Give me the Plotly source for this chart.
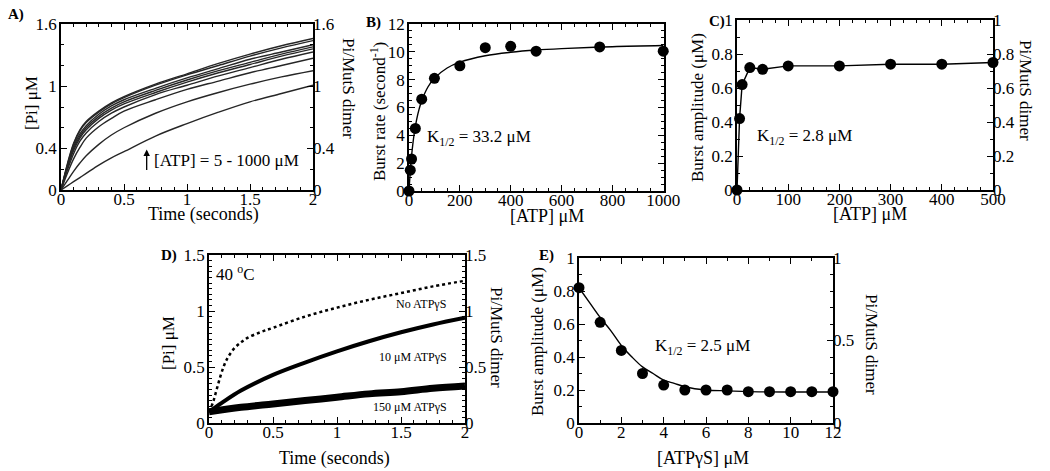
import plotly.graph_objects as go

W, H = 1050, 471
FONT = "Liberation Serif"

# ---------------- data ----------------
# Panel A: Pi release time courses, [ATP] = 5 - 1000 uM
a_time = [0, 0.05, 0.1, 0.15, 0.2, 0.3, 0.4, 0.5, 0.75, 1.0, 1.25, 1.5, 1.75, 2.0]
a_curves = [
    [0, 0.25, 0.45, 0.58, 0.66, 0.76, 0.84, 0.90, 1.02, 1.12, 1.22, 1.31, 1.39, 1.46],
    [0, 0.24, 0.44, 0.57, 0.65, 0.75, 0.83, 0.89, 1.01, 1.11, 1.20, 1.29, 1.37, 1.44],
    [0, 0.23, 0.42, 0.54, 0.62, 0.73, 0.81, 0.87, 0.98, 1.08, 1.17, 1.26, 1.33, 1.40],
    [0, 0.22, 0.40, 0.52, 0.60, 0.71, 0.79, 0.85, 0.96, 1.06, 1.15, 1.23, 1.31, 1.38],
    [0, 0.21, 0.38, 0.50, 0.58, 0.69, 0.77, 0.83, 0.94, 1.04, 1.13, 1.21, 1.29, 1.36],
    [0, 0.19, 0.35, 0.47, 0.55, 0.66, 0.74, 0.80, 0.92, 1.01, 1.10, 1.18, 1.26, 1.33],
    [0, 0.16, 0.30, 0.41, 0.50, 0.61, 0.69, 0.76, 0.87, 0.97, 1.05, 1.13, 1.20, 1.27],
    [0, 0.09, 0.18, 0.26, 0.33, 0.44, 0.53, 0.60, 0.74, 0.85, 0.94, 1.02, 1.09, 1.15],
    [0, 0.04, 0.08, 0.12, 0.16, 0.24, 0.31, 0.37, 0.52, 0.64, 0.75, 0.85, 0.93, 1.01],
]

# Panel B: burst rate vs [ATP]
b_atp = [0, 5, 10, 25, 50, 100, 200, 300, 400, 500, 750, 1000]
b_rate = [0, 1.5, 2.3, 4.5, 6.6, 8.1, 9.0, 10.3, 10.4, 10.05, 10.35, 10.05]
b_fit_x = [0, 5, 10, 20, 30, 40, 50, 75, 100, 150, 200, 300, 400, 500, 600, 800, 1000]
b_fit_y = [0, 1.41, 2.50, 4.06, 5.13, 5.90, 6.49, 7.49, 8.11, 8.84, 9.26, 9.72, 9.97, 10.13, 10.23, 10.37, 10.45]

# Panel C: burst amplitude vs [ATP]
c_atp = [0, 5, 10, 25, 50, 100, 200, 300, 400, 500]
c_amp = [0, 0.42, 0.62, 0.72, 0.71, 0.73, 0.73, 0.74, 0.74, 0.75]

# Panel D: time courses at 40 C with ATPgS
d_t0 = [0, 0.03, 0.06, 0.09, 0.12, 0.15, 0.2, 0.25, 0.3, 0.4, 0.5, 0.75, 1.0, 1.25, 1.5, 1.75, 2.0]
d_none = [0.10, 0.18, 0.30, 0.42, 0.52, 0.59, 0.67, 0.72, 0.76, 0.81, 0.85, 0.95, 1.03, 1.10, 1.16, 1.22, 1.27]
d_t10 = [0, 0.1, 0.25, 0.5, 0.75, 1.0, 1.25, 1.5, 1.75, 2.0]
d_10 = [0.10, 0.18, 0.29, 0.43, 0.54, 0.64, 0.73, 0.81, 0.88, 0.94]
d_t150 = [0, 0.25, 0.5, 0.75, 1.0, 1.25, 1.5, 1.75, 2.0]
d_150 = [0.10, 0.14, 0.17, 0.20, 0.23, 0.26, 0.28, 0.31, 0.33]

# Panel E: burst amplitude vs [ATPgS]
e_atpgs = [0, 1, 2, 3, 4, 5, 6, 7, 8, 9, 10, 11, 12]
e_amp = [0.82, 0.61, 0.44, 0.30, 0.23, 0.20, 0.20, 0.20, 0.19, 0.19, 0.19, 0.19, 0.19]
e_fit_x = [0, 0.5, 1, 1.5, 2, 2.5, 3, 3.5, 4, 4.5, 5, 6, 7, 8, 10, 12]
e_fit_y = [0.82, 0.73, 0.64, 0.56, 0.47, 0.40, 0.34, 0.30, 0.26, 0.24, 0.22, 0.20, 0.195, 0.19, 0.188, 0.188]

# ---------------- layout helpers ----------------
def dx(x0, x1):
    return [x0 / W, x1 / W]

def dy(ytop, ybot):
    return [1 - ybot / H, 1 - ytop / H]

TICKFONT = dict(family=FONT, size=17, color="black")

def minor(d):
    return dict(ticks="inside", ticklen=3, tickwidth=1, tickcolor="black", dtick=d, tick0=0, showgrid=False)

def xax(domain, rng, dtick, minor_dtick, anchor):
    return dict(domain=domain, range=rng, anchor=anchor, showline=True, linecolor="black",
                linewidth=1.5, mirror="ticks", ticks="inside", ticklen=6, tickwidth=1.2,
                tickcolor="black", showgrid=False, zeroline=False, tickfont=TICKFONT,
                ticklabelstandoff=-7,
                tick0=0, dtick=dtick, minor=minor(minor_dtick))

def yax(domain, rng, anchor, tickvals, minor_dtick, mirror="ticks"):
    return dict(domain=domain, range=rng, anchor=anchor, showline=True, linecolor="black",
                linewidth=1.5, mirror=mirror, ticks="inside", ticklen=6, tickwidth=1.2,
                tickcolor="black", showgrid=False, zeroline=False, tickfont=TICKFONT,
                ticklabelstandoff=-1,
                tickmode="array", tickvals=tickvals, ticktext=[f"{v:g}" for v in tickvals],
                minor=minor(minor_dtick))

def yright(over, rng, anchor, tickvals, minor_dtick):
    return dict(overlaying=over, side="right", range=rng, anchor=anchor, showline=False,
                ticks="inside", ticklen=6, tickwidth=1.2, tickcolor="black",
                showgrid=False, zeroline=False, tickfont=TICKFONT,
                ticklabelstandoff=-1,
                tickmode="array", tickvals=tickvals, ticktext=[f"{v:g}" for v in tickvals],
                minor=minor(minor_dtick))

fig = go.Figure()

# ---- A ----
for c in a_curves:
    fig.add_trace(go.Scatter(x=a_time, y=c, mode="lines", line=dict(color="#262626", width=1.4, shape="spline"),
                             xaxis="x", yaxis="y", showlegend=False, hoverinfo="skip"))
# ---- B ----
fig.add_trace(go.Scatter(x=b_fit_x, y=b_fit_y, mode="lines", line=dict(color="black", width=1.4, shape="spline"),
                         xaxis="x2", yaxis="y2", showlegend=False))
fig.add_trace(go.Scatter(x=b_atp, y=b_rate, mode="markers", marker=dict(color="black", size=11),
                         xaxis="x2", yaxis="y2", showlegend=False, cliponaxis=False))
# ---- C ----
fig.add_trace(go.Scatter(x=c_atp, y=c_amp, mode="lines+markers", line=dict(color="black", width=1.4),
                         marker=dict(color="black", size=11),
                         xaxis="x3", yaxis="y3", showlegend=False, cliponaxis=False))
# ---- D ----
fig.add_trace(go.Scatter(x=d_t150, y=d_150, mode="lines", line=dict(color="black", width=7, shape="spline"),
                         xaxis="x4", yaxis="y4", showlegend=False))
fig.add_trace(go.Scatter(x=d_t10, y=d_10, mode="lines", line=dict(color="black", width=4, shape="spline"),
                         xaxis="x4", yaxis="y4", showlegend=False))
fig.add_trace(go.Scatter(x=d_t0, y=d_none, mode="lines", line=dict(color="black", width=2.5, shape="spline", dash="dot"),
                         xaxis="x4", yaxis="y4", showlegend=False))
# ---- E ----
fig.add_trace(go.Scatter(x=e_fit_x, y=e_fit_y, mode="lines", line=dict(color="black", width=1.4, shape="spline"),
                         xaxis="x5", yaxis="y5", showlegend=False))
fig.add_trace(go.Scatter(x=e_atpgs, y=e_amp, mode="markers", marker=dict(color="black", size=11),
                         xaxis="x5", yaxis="y5", showlegend=False, cliponaxis=False))

# invisible traces to activate right-hand axes
for ya, xa in [("y6", "x"), ("y7", "x3"), ("y8", "x4"), ("y9", "x5")]:
    fig.add_trace(go.Scatter(x=[None], y=[None], xaxis=xa, yaxis=ya, showlegend=False, hoverinfo="skip"))

layout = dict(
    width=W, height=H, margin=dict(l=0, r=0, t=0, b=0, autoexpand=False),
    paper_bgcolor="white", plot_bgcolor="white",
    font=dict(family=FONT, size=17, color="black"),
    showlegend=False,
    xaxis=xax(dx(61, 313), [0, 2], 0.5, 0.1, "y"),
    yaxis=yax(dy(24, 190), [0, 1.6], "x", [0, 0.4, 1, 1.6], 0.2, mirror=True),
    yaxis6=yright("y", [0, 1.6], "x", [0, 0.4, 1, 1.6], 0.2),
    xaxis2=xax(dx(409, 664), [0, 1003], 200, 50, "y2"),
    yaxis2=yax(dy(24, 191), [0, 12], "x2", [0, 2, 4, 6, 8, 10, 12], 0.5),
    xaxis3=xax(dx(737, 993), [0, 500], 100, 25, "y3"),
    yaxis3=yax(dy(20, 190), [0, 1], "x3", [0, 0.2, 0.4, 0.6, 0.8, 1], 0.1, mirror=True),
    yaxis7=yright("y3", [0, 1], "x3", [0, 0.2, 0.4, 0.6, 0.8, 1], 0.1),
    xaxis4=xax(dx(209, 465), [0, 2], 0.5, 0.1, "y4"),
    yaxis4=yax(dy(255, 423), [0, 1.5], "x4", [0, 0.5, 1, 1.5], 0.05, mirror=True),
    yaxis8=yright("y4", [0, 1.5], "x4", [0, 0.5, 1, 1.5], 0.05),
    xaxis5=xax(dx(579, 833), [0, 12], 2, 1, "y5"),
    yaxis5=yax(dy(258, 423), [0, 1], "x5", [0, 0.2, 0.4, 0.6, 0.8, 1], 0.1, mirror=True),
    yaxis9=yright("y5", [0, 1], "x5", [0, 0.5, 1], 0.1),
)
fig.update_layout(**layout)

anns = []

def pann(text, px, py, size=17, angle=0, xanchor="center", yanchor="middle"):
    anns.append(dict(text=text, x=px / W, y=1 - py / H, xref="paper", yref="paper",
                     showarrow=False, textangle=angle, xanchor=xanchor, yanchor=yanchor,
                     font=dict(family=FONT, size=size, color="black")))

def dann(text, x, y, xr, yr, size=17, xanchor="left"):
    anns.append(dict(text=text, x=x, y=y, xref=xr, yref=yr, showarrow=False,
                     xanchor=xanchor, yanchor="middle",
                     font=dict(family=FONT, size=size, color="black")))

# panel letters
pann("<b>A)</b>", 6, 15, size=15, xanchor="left")
pann("<b>B)</b>", 364, 23, size=15, xanchor="left")
pann("<b>C)</b>", 707, 22, size=15, xanchor="left")
pann("<b>D)</b>", 159, 255, size=15, xanchor="left")
pann("<b>E)</b>", 537, 255, size=15, xanchor="left")

# axis titles
pann("Time (seconds)", 203, 214, size=18)
pann("[Pi] μM", 32, 103, angle=-90)
pann("Pi/MutS dimer", 348, 88, angle=90)
pann("[ATP] μM", 547, 216, size=18)
pann("Burst rate (second<sup>-1</sup>)", 378, 112, angle=-90)
pann("[ATP] μM", 870, 214, size=18)
pann("Burst amplitude (μM)", 698, 108, angle=-90)
pann("Pi/MutS dimer", 1025, 90, angle=90)
pann("Time (seconds)", 334, 458, size=18)
pann("[Pi] μM", 168, 343, angle=-90)
pann("Pi/MutS dimer", 497, 337, angle=90)
pann("[ATPγS] μM", 703, 458, size=18)
pann("Burst amplitude (μM)", 537, 342, angle=-90)
pann("Pi/MutS dimer", 872, 344, angle=90)

# in-plot texts
anns.append(dict(text="", x=0.68, y=0.39, xref="x", yref="y", showarrow=True, ax=0, ay=22,
                 arrowhead=2, arrowsize=1, arrowwidth=1.3, arrowcolor="black"))
dann("[ATP] = 5 - 1000 μM", 0.72, 0.28, "x", "y")
dann("K<sub>1/2</sub> = 33.2 μM", 63, 3.8, "x2", "y2")
dann("K<sub>1/2</sub> = 2.8 μM", 35, 0.31, "x3", "y3")
dann("40 <sup>o</sup>C", 0.04, 1.34, "x4", "y4", size=17)
dann("No ATPγS", 1.66, 1.06, "x4", "y4", size=12, xanchor="center")
dann("10 μM ATPγS", 1.59, 0.59, "x4", "y4", size=12, xanchor="center")
dann("150 μM ATPγS", 1.57, 0.14, "x4", "y4", size=12, xanchor="center")
dann("K<sub>1/2</sub> = 2.5 μM", 3.5, 0.46, "x5", "y5")

fig.update_layout(annotations=anns)
fig.write_html("out.html", config={"displayModeBar": False},
               post_script="document.body.style.margin='0px';")
